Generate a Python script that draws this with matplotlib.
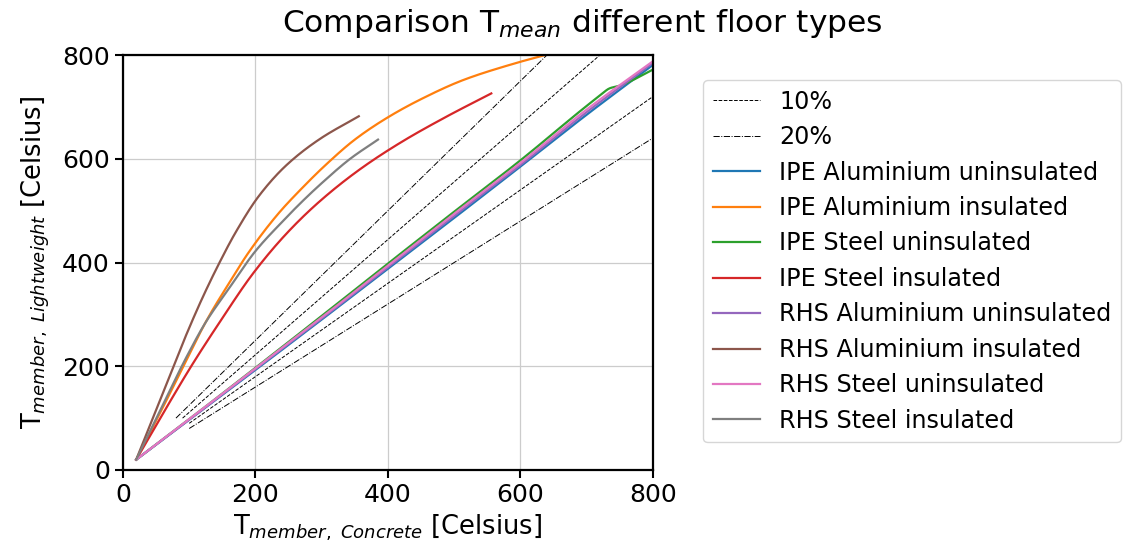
import numpy as np
import matplotlib
matplotlib.use("Agg")
import matplotlib.pyplot as plt

# ---- data ----
ref_t = [100, 1000]

ipe_alu_unins_x = [20, 100, 200, 300, 400, 500, 600, 700, 800]
ipe_alu_unins_y = [20, 97, 193, 290, 388, 486, 585, 685, 781]

ipe_alu_ins_x = [20, 60, 95, 127, 160, 190, 235, 270, 305, 350, 400, 450, 514, 589, 640]
ipe_alu_ins_y = [20, 120, 210, 290, 360, 420, 495, 543, 587, 637, 680, 715, 752, 783, 801]

ipe_steel_unins_x = [20, 100, 200, 300, 400, 500, 600, 700, 720, 735, 750, 800]
ipe_steel_unins_y = [20, 98, 197, 297, 398, 498, 597, 702, 722, 736, 741, 772]

ipe_steel_ins_x = [20, 60, 103, 146, 197, 247, 297, 358, 420, 488, 556]
ipe_steel_ins_y = [20, 108, 200, 285, 380, 456, 518, 580, 632, 681, 726]

rhs_alu_unins_x = [20, 100, 200, 300, 400, 500, 600, 700, 800]
rhs_alu_unins_y = [20, 97, 195, 292, 391, 490, 588, 690, 785]

rhs_alu_ins_x = [20, 46, 71, 96, 120, 145, 170, 205, 247, 297, 356]
rhs_alu_ins_y = [20, 103, 183, 262, 332, 398, 458, 528, 588, 638, 682]

rhs_steel_unins_x = [20, 100, 200, 300, 400, 500, 600, 700, 800]
rhs_steel_unins_y = [20, 98, 196, 294, 394, 494, 592, 695, 788]

rhs_steel_ins_x = [20, 60, 96, 125, 160, 200, 240, 270, 300, 343, 385]
rhs_steel_ins_y = [20, 125, 218, 285, 350, 422, 478, 517, 553, 600, 637]

series = [
    ("IPE Aluminium uninsulated", ipe_alu_unins_x, ipe_alu_unins_y, "#1f77b4"),
    ("IPE Aluminium insulated", ipe_alu_ins_x, ipe_alu_ins_y, "#ff7f0e"),
    ("IPE Steel uninsulated", ipe_steel_unins_x, ipe_steel_unins_y, "#2ca02c"),
    ("IPE Steel insulated", ipe_steel_ins_x, ipe_steel_ins_y, "#d62728"),
    ("RHS Aluminium uninsulated", rhs_alu_unins_x, rhs_alu_unins_y, "#9467bd"),
    ("RHS Aluminium insulated", rhs_alu_ins_x, rhs_alu_ins_y, "#8c564b"),
    ("RHS Steel uninsulated", rhs_steel_unins_x, rhs_steel_unins_y, "#e377c2"),
    ("RHS Steel insulated", rhs_steel_ins_x, rhs_steel_ins_y, "#7f7f7f"),
]


def smooth(x, y, n=300):
    x = np.asarray(x, float)
    y = np.asarray(y, float)
    # monotone piecewise cubic (Fritsch-Carlson) through the read points
    h = np.diff(x)
    d = np.diff(y) / h
    m = np.zeros_like(x)
    m[0], m[-1] = d[0], d[-1]
    for i in range(1, len(x) - 1):
        if d[i - 1] * d[i] <= 0:
            m[i] = 0
        else:
            w1 = 2 * h[i] + h[i - 1]
            w2 = h[i] + 2 * h[i - 1]
            m[i] = (w1 + w2) / (w1 / d[i - 1] + w2 / d[i])
    xs = np.linspace(x[0], x[-1], n)
    idx = np.clip(np.searchsorted(x, xs) - 1, 0, len(x) - 2)
    t = (xs - x[idx]) / h[idx]
    h00 = 2 * t**3 - 3 * t**2 + 1
    h10 = t**3 - 2 * t**2 + t
    h01 = -2 * t**3 + 3 * t**2
    h11 = t**3 - t**2
    ys = h00 * y[idx] + h10 * h[idx] * m[idx] + h01 * y[idx + 1] + h11 * h[idx] * m[idx + 1]
    return xs, ys


plt.rcParams['font.family'] = 'DejaVu Sans'
fig = plt.figure(figsize=(11.24, 5.56), dpi=100)
ax = fig.add_axes([0.1094, 0.1547, 0.4715, 0.7463])

t = np.array(ref_t, float)
ax.plot(t, 0.9 * t, color='black', ls='--', lw=0.7, label='10%')
ax.plot(0.9 * t, t, color='black', ls='--', lw=0.7)
ax.plot(t, 0.8 * t, color='black', ls='-.', lw=0.7, label='20%')
ax.plot(0.8 * t, t, color='black', ls='-.', lw=0.7)

for name, x, y, c in series:
    xs, ys = smooth(x, y)
    ax.plot(xs, ys, color=c, lw=1.6, label=name)

ax.set_xlim(0, 800)
ax.set_ylim(0, 800)
ax.set_xticks([0, 200, 400, 600, 800])
ax.set_yticks([0, 200, 400, 600, 800])
ax.grid(True, color='#cccccc', lw=0.9)
ax.tick_params(labelsize=18, length=6, width=1.5)
for s in ax.spines.values():
    s.set_linewidth(1.6)

ax.set_xlabel(r'T$_{member,\ Concrete}$ [Celsius]', fontsize=18.5, labelpad=4)
ax.set_ylabel(r'T$_{member,\ Lightweight}$ [Celsius]', fontsize=18.5, labelpad=7)

fig.text(0.518, 0.958, r'Comparison T$_{mean}$ different floor types', fontsize=22.5,
         ha='center', va='center')

leg = ax.legend(loc='upper left', bbox_to_anchor=(0.6254, 0.856), bbox_transform=fig.transFigure,
                fontsize=17.2, frameon=True, borderaxespad=0, labelspacing=0.48)
leg.get_frame().set_edgecolor('#cccccc')

fig.savefig('out.png', dpi=100)
